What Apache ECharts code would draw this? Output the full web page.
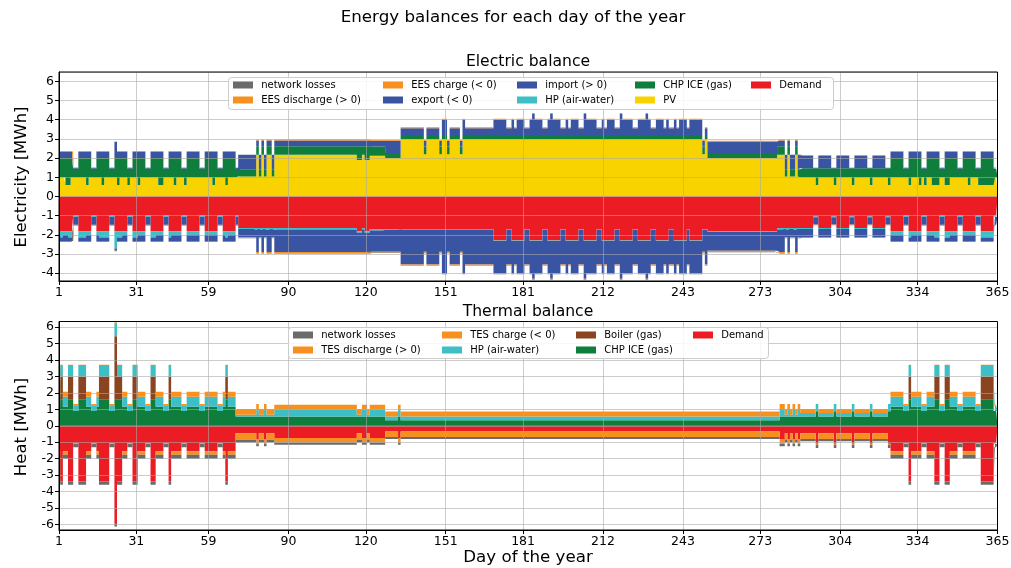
<!DOCTYPE html>
<html><head><meta charset="utf-8">
<script src="https://cdn.jsdelivr.net/npm/echarts@6/dist/echarts.min.js"></script>
<style>html,body{margin:0;padding:0;background:#fff}#c{width:1011px;height:568px}</style>
</head><body><div id="c"></div>
<script>
const days = Array.from({length: 365}, (_, i) => String(i + 1));
const tickDays = [1,31,59,90,120,151,181,212,243,273,304,334,365];

// ---------- Electric balance ----------
const pvE = [
1,1,1,.6,.6,1,1,
1,1,1,1,.6,1,1,
1,1,1,.6,1,1,1,
1,1,.6,1,1,1,.6,
1,1,1,.6,1,1,1,
1,1,1,1,.6,.6,1,
1,1,1,.6,1,1,1,
.6,1,1,1,1,1,1,
1,1,1,1,.6,1,1,
1,1,.6,1,1,1,1,
1.04,1.04,1.04,1.04,1.04,1.04,1.04,
2.17,1.04,2.17,1.04,2.17,2.17,1.04,
2.17,2.17,2.17,2.17,2.17,2.17,2.17,
2.17,2.17,2.17,2.17,2.17,2.17,2.17,
2.17,2.17,2.17,2.17,2.17,2.17,2.17,
2.17,2.17,2.17,2.17,2.17,2.17,2.17,
2.17,2.17,2.17,2.17,1.9,1.9,2.17,
1.9,1.9,2.12,2.12,2.12,2.12,2.12,
2.12,2,2,2,2,2,2,
3,3,3,3,3,3,3,
3,3,2.2,3,3,3,3,
3,2.2,3,3,2.2,3,3,
3,3,2.2,3,3,3,3,
3,3,3,3,3,3,3,
3,3,3,3,3,3,3,
3,3,3,3,3,3,3,
3,3,3,3,3,3,3,
3,3,3,3,3,3,3,
3,3,3,3,3,3,3,
3,3,3,3,3,3,3,
3,3,3,3,3,3,3,
3,3,3,3,3,3,3,
3,3,3,3,3,3,3,
3,3,3,3,3,3,3,
3,3,3,3,3,3,3,
3,3,3,3,3,2.2,3,
2,2,2,2,2,2,2,
2,2,2,2,2,2,2,
2,2,2,2,2,2,2,
2,2,2,2,2,2,2.17,
2.17,2.17,1.04,2.17,1.04,1.04,2.17,
1.04,1,1,1,1,1,1,
.6,1,1,1,1,1,1,
.6,1,1,1,1,1,1,
.6,1,1,1,1,1,1,
.6,1,1,1,1,1,1,
.6,1,1,1,1,1,1,
1,.6,1,1,1,.6,1,
.6,1,1,.6,.6,.6,1,
1,.6,.6,1,1,1,1,
1,1,1,.6,1,1,1,
.6,.6,.6,.6,.6,.6,1,
1];

const chpE = [
1,1,1,1.4,1.4,1,.45,
.45,1,1,1,1.4,1,.45,
.45,1,1,1.4,1,1,.45,
.45,1,1.4,1,1,1,.85,
.45,1,1,1.4,1,1,.45,
.45,1,1,1,1.4,1.4,.45,
.45,1,1,1.4,1,1,.45,
.85,1,1,1,1,1,.45,
.45,1,1,1,1.4,1,.45,
.45,1,1.4,1,1,1,.45,
.38,.38,.38,.38,.38,.38,.38,
.45,.38,.45,.38,.45,.45,.38,
.45,.45,.45,.45,.45,.45,.45,
.45,.45,.45,.45,.45,.45,.45,
.45,.45,.45,.45,.45,.45,.45,
.45,.45,.45,.45,.45,.45,.45,
.45,.45,.45,.45,.72,.72,.45,
.72,.72,.48,.48,.48,.48,.48,
.48,.26,.26,.26,.26,.26,.26,
.2,.2,.2,.2,.2,.2,.2,
.2,.2,.4,.2,.2,.2,.2,
.2,.4,.2,.2,.4,.2,.2,
.2,.2,.4,.2,.2,.2,.2,
.2,.2,.2,.2,.2,.2,.2,
.2,.2,.2,.2,.2,.2,.2,
.2,.2,.2,.2,.2,.2,.2,
.2,.2,.2,.2,.2,.2,.2,
.2,.2,.2,.2,.2,.2,.2,
.2,.2,.2,.2,.2,.2,.2,
.2,.2,.2,.2,.2,.2,.2,
.2,.2,.2,.2,.2,.2,.2,
.2,.2,.2,.2,.2,.2,.2,
.2,.2,.2,.2,.2,.2,.2,
.2,.2,.2,.2,.2,.2,.2,
.2,.2,.2,.2,.2,.2,.2,
.2,.2,.2,.2,.2,.4,.2,
.26,.26,.26,.26,.26,.26,.26,
.26,.26,.26,.26,.26,.26,.26,
.26,.26,.26,.26,.26,.26,.26,
.26,.26,.26,.26,.26,.26,.45,
.45,.45,.38,.45,.38,.38,.45,
.38,.47,.47,.47,.47,.47,.47,
.87,.47,.47,.47,.47,.47,.47,
.87,.47,.47,.47,.47,.47,.47,
.87,.47,.47,.47,.47,.47,.47,
.87,.47,.47,.47,.47,.47,.47,
.87,1,1,1,1,1,.45,
.45,1.4,1,1,1,1.4,.45,
.85,1,1,1.4,1.4,1.4,.45,
.45,1.4,1.4,1,1,1,.45,
.45,1,1,1.4,1,1,.45,
.85,1.4,1.4,1.4,1.4,1.4,.45,
.45];

const importE = [
.35,.35,.35,.35,.35,.35,.05,
.05,.35,.35,.35,.35,.35,.05,
.05,.35,.35,.35,.35,.35,.05,
.05,.85,.35,.35,.35,.35,.05,
.05,.35,.35,.35,.35,.35,.05,
.05,.35,.35,.35,.35,.35,.05,
.05,.35,.35,.35,.35,.35,.05,
.05,.35,.35,.35,.35,.35,.05,
.05,.35,.35,.35,.35,.35,.05,
.05,.35,.35,.35,.35,.35,.05,
.75,.75,.75,.75,.75,.75,.75,
.3,.75,.3,.75,.3,.3,.75,
.3,.3,.3,.3,.3,.3,.3,
.3,.3,.3,.3,.3,.3,.3,
.3,.3,.3,.3,.3,.3,.3,
.3,.3,.3,.3,.3,.3,.3,
.3,.3,.3,.3,.3,.3,.3,
.3,.3,.3,.3,.3,.3,.3,
.3,.64,.64,.64,.64,.64,.64,
.36,.36,.36,.36,.36,.36,.36,
.36,.36,.3,.36,.36,.36,.36,
.36,.3,.8,.8,.3,.36,.36,
.36,.36,.3,.8,.36,.36,.36,
.36,.36,.36,.36,.36,.36,.36,
.36,.8,.8,.8,.8,.8,.36,
.36,.8,.36,.8,.8,.8,.36,
.36,.8,1.1,.8,.8,.8,.36,
.36,.8,1.1,.8,.8,.8,.36,
.36,.8,.36,.8,.8,.8,.36,
.36,1.1,.8,.8,.8,.8,.36,
.36,.8,.36,.8,.8,.8,.36,
.36,1.1,.8,.8,.8,.8,.36,
.36,.8,.8,.8,1.1,.8,.36,
.36,.8,.8,.8,.36,.8,.36,
.36,.8,.36,.8,.8,.8,.36,
.8,.8,.8,.8,.8,.3,.36,
.6,.6,.6,.6,.6,.6,.6,
.6,.6,.6,.6,.6,.6,.6,
.6,.6,.6,.6,.6,.6,.6,
.6,.6,.6,.6,.6,.6,.3,
.3,.3,.75,.3,.75,.75,.3,
.75,.66,.66,.66,.66,.66,.02,
.02,.66,.66,.66,.66,.66,.02,
.02,.66,.66,.66,.66,.66,.02,
.02,.66,.66,.66,.66,.66,.02,
.02,.66,.66,.66,.66,.66,.02,
.02,.35,.35,.35,.35,.35,.05,
.05,.35,.35,.35,.35,.35,.05,
.05,.35,.35,.35,.35,.35,.05,
.05,.35,.35,.35,.35,.35,.05,
.05,.35,.35,.35,.35,.35,.05,
.05,.35,.35,.35,.35,.35,.05,
.05];

const eesDisE = [
.01,.01,.01,.01,.01,.01,.01,
.01,.01,.01,.01,.01,.01,.01,
.01,.01,.01,.01,.01,.01,.01,
.01,.01,.01,.01,.01,.01,.01,
.01,.01,.01,.01,.01,.01,.01,
.01,.01,.01,.01,.01,.01,.01,
.01,.01,.01,.01,.01,.01,.01,
.01,.01,.01,.01,.01,.01,.01,
.01,.01,.01,.01,.01,.01,.01,
.01,.01,.01,.01,.01,.01,.01,
.01,.01,.01,.01,.01,.01,.01,
.05,.01,.05,.01,.05,.05,.01,
.05,.05,.05,.05,.05,.05,.05,
.05,.05,.05,.05,.05,.05,.05,
.05,.05,.05,.05,.05,.05,.05,
.05,.05,.05,.05,.05,.05,.05,
.05,.05,.05,.05,.05,.05,.05,
.05,.05,.05,.05,.05,.05,.05,
.05,.05,.05,.05,.05,.05,.05,
.05,.05,.05,.05,.05,.05,.05,
.05,.05,.05,.05,.05,.05,.05,
.05,.05,.05,.05,.05,.05,.05,
.05,.05,.05,.05,.05,.05,.05,
.05,.05,.05,.05,.05,.05,.05,
.05,.05,.05,.05,.05,.05,.05,
.05,.05,.05,.05,.05,.05,.05,
.05,.05,.05,.05,.05,.05,.05,
.05,.05,.05,.05,.05,.05,.05,
.05,.05,.05,.05,.05,.05,.05,
.05,.05,.05,.05,.05,.05,.05,
.05,.05,.05,.05,.05,.05,.05,
.05,.05,.05,.05,.05,.05,.05,
.05,.05,.05,.05,.05,.05,.05,
.05,.05,.05,.05,.05,.05,.05,
.05,.05,.05,.05,.05,.05,.05,
.05,.05,.05,.05,.05,.05,.05,
.05,.05,.05,.05,.05,.05,.05,
.05,.05,.05,.05,.05,.05,.05,
.05,.05,.05,.05,.05,.05,.05,
.05,.05,.05,.05,.05,.05,.05,
.05,.05,.01,.05,.01,.01,.05,
.01,.02,.02,.02,.02,.02,.01,
.01,.02,.02,.02,.02,.02,.01,
.01,.02,.02,.02,.02,.02,.01,
.01,.02,.02,.02,.02,.02,.01,
.01,.02,.02,.02,.02,.02,.01,
.01,.01,.01,.01,.01,.01,.01,
.01,.01,.01,.01,.01,.01,.01,
.01,.01,.01,.01,.01,.01,.01,
.01,.01,.01,.01,.01,.01,.01,
.01,.01,.01,.01,.01,.01,.01,
.01,.01,.01,.01,.01,.01,.01,
.01];

const demandE = [
-1.82,-1.82,-1.82,-1.82,-1.82,-1.82,-1,
-1,-1.82,-1.82,-1.82,-1.82,-1.82,-1,
-1,-1.82,-1.82,-1.82,-1.82,-1.82,-1,
-1,-1.82,-1.82,-1.82,-1.82,-1.82,-1,
-1,-1.82,-1.82,-1.82,-1.82,-1.82,-1,
-1,-1.82,-1.82,-1.82,-1.82,-1.82,-1,
-1,-1.82,-1.82,-1.82,-1.82,-1.82,-1,
-1,-1.82,-1.82,-1.82,-1.82,-1.82,-1,
-1,-1.82,-1.82,-1.82,-1.82,-1.82,-1,
-1,-1.82,-1.82,-1.82,-1.82,-1.82,-1,
-1.65,-1.65,-1.65,-1.65,-1.65,-1.65,-1.65,
-1.65,-1.65,-1.65,-1.65,-1.65,-1.65,-1.65,
-1.65,-1.65,-1.65,-1.65,-1.65,-1.65,-1.65,
-1.65,-1.65,-1.65,-1.65,-1.65,-1.65,-1.65,
-1.65,-1.65,-1.65,-1.65,-1.65,-1.65,-1.65,
-1.65,-1.65,-1.65,-1.65,-1.65,-1.65,-1.65,
-1.65,-1.65,-1.65,-1.65,-1.82,-1.82,-1.65,
-1.82,-1.82,-1.7,-1.7,-1.7,-1.7,-1.7,
-1.7,-1.7,-1.7,-1.7,-1.7,-1.7,-1.7,
-1.7,-1.7,-1.7,-1.7,-1.7,-1.7,-1.7,
-1.7,-1.7,-1.7,-1.7,-1.7,-1.7,-1.7,
-1.7,-1.7,-1.7,-1.7,-1.7,-1.7,-1.7,
-1.7,-1.7,-1.7,-1.7,-1.7,-1.7,-1.7,
-1.7,-1.7,-1.7,-1.7,-1.7,-1.7,-1.7,
-1.7,-2.3,-2.3,-2.3,-2.3,-2.3,-1.7,
-1.7,-2.3,-2.3,-2.3,-2.3,-2.3,-1.7,
-1.7,-2.3,-2.3,-2.3,-2.3,-2.3,-1.7,
-1.7,-2.3,-2.3,-2.3,-2.3,-2.3,-1.7,
-1.7,-2.3,-2.3,-2.3,-2.3,-2.3,-1.7,
-1.7,-2.3,-2.3,-2.3,-2.3,-2.3,-1.7,
-1.7,-2.3,-2.3,-2.3,-2.3,-2.3,-1.7,
-1.7,-2.3,-2.3,-2.3,-2.3,-2.3,-1.7,
-1.7,-2.3,-2.3,-2.3,-2.3,-2.3,-1.7,
-1.7,-2.3,-2.3,-2.3,-2.3,-2.3,-1.7,
-1.7,-2.3,-2.3,-2.3,-2.3,-2.3,-1.7,
-2.3,-2.3,-2.3,-2.3,-2.3,-1.7,-1.7,
-1.82,-1.82,-1.82,-1.82,-1.82,-1.82,-1.82,
-1.82,-1.82,-1.82,-1.82,-1.82,-1.82,-1.82,
-1.82,-1.82,-1.82,-1.82,-1.82,-1.82,-1.82,
-1.82,-1.82,-1.82,-1.82,-1.82,-1.82,-1.65,
-1.65,-1.65,-1.65,-1.65,-1.65,-1.65,-1.65,
-1.65,-1.65,-1.65,-1.65,-1.65,-1.65,-1.04,
-1.04,-1.65,-1.65,-1.65,-1.65,-1.65,-1.04,
-1.04,-1.65,-1.65,-1.65,-1.65,-1.65,-1.04,
-1.04,-1.65,-1.65,-1.65,-1.65,-1.65,-1.04,
-1.04,-1.65,-1.65,-1.65,-1.65,-1.65,-1.04,
-1.04,-1.82,-1.82,-1.82,-1.82,-1.82,-1,
-1,-1.82,-1.82,-1.82,-1.82,-1.82,-1,
-1,-1.82,-1.82,-1.82,-1.82,-1.82,-1,
-1,-1.82,-1.82,-1.82,-1.82,-1.82,-1,
-1,-1.82,-1.82,-1.82,-1.82,-1.82,-1,
-1,-1.82,-1.82,-1.82,-1.82,-1.82,-1,
-1];

const hpE = [
-.18,-.32,-.18,-.18,-.32,-.32,-.06,
-.06,-.32,-.32,-.32,-.18,-.18,-.06,
-.06,-.18,-.32,-.32,-.32,-.32,-.06,
-.06,-.9,-.32,-.32,-.18,-.18,-.06,
-.06,-.32,-.32,-.18,-.18,-.18,-.06,
-.06,-.32,-.32,-.18,-.18,-.18,-.06,
-.06,-.32,-.18,-.18,-.18,-.18,-.06,
-.06,-.18,-.18,-.18,-.18,-.18,-.06,
-.06,-.18,-.18,-.18,-.18,-.18,-.06,
-.06,-.18,-.32,-.18,-.18,-.18,-.06,
-.05,-.05,-.05,-.05,-.05,-.05,-.05,
-.08,-.05,-.08,-.05,-.08,-.08,-.05,
-.08,-.08,-.08,-.08,-.08,-.08,-.08,
-.08,-.08,-.08,-.08,-.08,-.08,-.08,
-.08,-.08,-.08,-.08,-.08,-.08,-.08,
-.08,-.08,-.08,-.08,-.08,-.08,-.08,
-.08,-.08,-.08,-.08,-.08,-.08,-.08,
-.08,-.08,-.08,-.08,-.08,-.08,-.08,
-.08,-.05,-.05,-.05,-.05,-.05,-.05,
-.03,-.03,-.03,-.03,-.03,-.03,-.03,
-.03,-.03,-.03,-.03,-.03,-.03,-.03,
-.03,-.03,-.03,-.03,-.03,-.03,-.03,
-.03,-.03,-.03,-.03,-.03,-.03,-.03,
-.03,-.03,-.03,-.03,-.03,-.03,-.03,
-.03,-.03,-.03,-.03,-.03,-.03,-.03,
-.03,-.03,-.03,-.03,-.03,-.03,-.03,
-.03,-.03,-.03,-.03,-.03,-.03,-.03,
-.03,-.03,-.03,-.03,-.03,-.03,-.03,
-.03,-.03,-.03,-.03,-.03,-.03,-.03,
-.03,-.03,-.03,-.03,-.03,-.03,-.03,
-.03,-.03,-.03,-.03,-.03,-.03,-.03,
-.03,-.03,-.03,-.03,-.03,-.03,-.03,
-.03,-.03,-.03,-.03,-.03,-.03,-.03,
-.03,-.03,-.03,-.03,-.03,-.03,-.03,
-.03,-.03,-.03,-.03,-.03,-.03,-.03,
-.03,-.03,-.03,-.03,-.03,-.03,-.03,
-.02,-.02,-.02,-.02,-.02,-.02,-.02,
-.02,-.02,-.02,-.02,-.02,-.02,-.02,
-.02,-.02,-.02,-.02,-.02,-.02,-.02,
-.02,-.02,-.02,-.02,-.02,-.02,-.08,
-.08,-.08,-.05,-.08,-.05,-.05,-.08,
-.05,-.05,-.05,-.05,-.05,-.05,-.04,
-.04,-.05,-.05,-.05,-.05,-.05,-.04,
-.04,-.05,-.05,-.05,-.05,-.05,-.04,
-.04,-.05,-.05,-.05,-.05,-.05,-.04,
-.04,-.05,-.05,-.05,-.05,-.05,-.04,
-.04,-.18,-.18,-.18,-.18,-.18,-.06,
-.06,-.32,-.18,-.18,-.18,-.18,-.06,
-.06,-.18,-.18,-.18,-.32,-.32,-.06,
-.06,-.32,-.32,-.18,-.18,-.18,-.06,
-.06,-.18,-.18,-.18,-.18,-.18,-.06,
-.06,-.32,-.32,-.32,-.32,-.32,-.06,
-.06];

const exportE = [
-.32,-.18,-.32,-.32,-.18,-.18,-.41,
-.41,-.18,-.18,-.18,-.32,-.32,-.41,
-.41,-.32,-.18,-.18,-.18,-.18,-.41,
-.41,-.1,-.18,-.18,-.32,-.32,-.41,
-.41,-.18,-.18,-.32,-.32,-.32,-.41,
-.41,-.18,-.18,-.32,-.32,-.32,-.41,
-.41,-.18,-.32,-.32,-.32,-.32,-.41,
-.41,-.32,-.32,-.32,-.32,-.32,-.41,
-.41,-.32,-.32,-.32,-.32,-.32,-.41,
-.41,-.32,-.18,-.32,-.32,-.32,-.41,
-.43,-.43,-.43,-.43,-.43,-.43,-.43,
-1.17,-.43,-1.17,-.43,-1.17,-1.17,-.43,
-1.17,-1.17,-1.17,-1.17,-1.17,-1.17,-1.17,
-1.17,-1.17,-1.17,-1.17,-1.17,-1.17,-1.17,
-1.17,-1.17,-1.17,-1.17,-1.17,-1.17,-1.17,
-1.17,-1.17,-1.17,-1.17,-1.17,-1.17,-1.17,
-1.17,-1.17,-1.17,-1.17,-1,-1,-1.17,
-1,-1,-1.1,-1.1,-1.1,-1.1,-1.1,
-1.1,-1.13,-1.13,-1.13,-1.13,-1.13,-1.13,
-1.82,-1.82,-1.82,-1.82,-1.82,-1.82,-1.82,
-1.82,-1.82,-1.16,-1.82,-1.82,-1.82,-1.82,
-1.82,-1.16,-2.26,-2.26,-1.16,-1.82,-1.82,
-1.82,-1.82,-1.16,-2.26,-1.82,-1.82,-1.82,
-1.82,-1.82,-1.82,-1.82,-1.82,-1.82,-1.82,
-1.82,-1.66,-1.66,-1.66,-1.66,-1.66,-1.82,
-1.82,-1.66,-1.22,-1.66,-1.66,-1.66,-1.82,
-1.82,-1.66,-1.96,-1.66,-1.66,-1.66,-1.82,
-1.82,-1.66,-1.96,-1.66,-1.66,-1.66,-1.82,
-1.82,-1.66,-1.22,-1.66,-1.66,-1.66,-1.82,
-1.82,-1.96,-1.66,-1.66,-1.66,-1.66,-1.82,
-1.82,-1.66,-1.22,-1.66,-1.66,-1.66,-1.82,
-1.82,-1.96,-1.66,-1.66,-1.66,-1.66,-1.82,
-1.82,-1.66,-1.66,-1.66,-1.96,-1.66,-1.82,
-1.82,-1.66,-1.66,-1.66,-1.22,-1.66,-1.82,
-1.82,-1.66,-1.22,-1.66,-1.66,-1.66,-1.82,
-1.66,-1.66,-1.66,-1.66,-1.66,-1.16,-1.82,
-.99,-.99,-.99,-.99,-.99,-.99,-.99,
-.99,-.99,-.99,-.99,-.99,-.99,-.99,
-.99,-.99,-.99,-.99,-.99,-.99,-.99,
-.99,-.99,-.99,-.99,-.99,-.99,-1.17,
-1.17,-1.17,-.43,-1.17,-.43,-.43,-1.17,
-.43,-.42,-.42,-.42,-.42,-.42,-.38,
-.38,-.42,-.42,-.42,-.42,-.42,-.38,
-.38,-.42,-.42,-.42,-.42,-.42,-.38,
-.38,-.42,-.42,-.42,-.42,-.42,-.38,
-.38,-.42,-.42,-.42,-.42,-.42,-.38,
-.38,-.32,-.32,-.32,-.32,-.32,-.41,
-.41,-.18,-.32,-.32,-.32,-.32,-.41,
-.41,-.32,-.32,-.32,-.18,-.18,-.41,
-.41,-.18,-.18,-.32,-.32,-.32,-.41,
-.41,-.32,-.32,-.32,-.32,-.32,-.41,
-.41,-.18,-.18,-.18,-.18,-.18,-.41,
-.41];

const eesChE = [
-.01,-.01,-.01,-.01,-.01,-.01,-.01,
-.01,-.01,-.01,-.01,-.01,-.01,-.01,
-.01,-.01,-.01,-.01,-.01,-.01,-.01,
-.01,-.01,-.01,-.01,-.01,-.01,-.01,
-.01,-.01,-.01,-.01,-.01,-.01,-.01,
-.01,-.01,-.01,-.01,-.01,-.01,-.01,
-.01,-.01,-.01,-.01,-.01,-.01,-.01,
-.01,-.01,-.01,-.01,-.01,-.01,-.01,
-.01,-.01,-.01,-.01,-.01,-.01,-.01,
-.01,-.01,-.01,-.01,-.01,-.01,-.01,
-.02,-.02,-.02,-.02,-.02,-.02,-.02,
-.05,-.02,-.05,-.02,-.05,-.05,-.02,
-.05,-.05,-.05,-.05,-.05,-.05,-.05,
-.05,-.05,-.05,-.05,-.05,-.05,-.05,
-.05,-.05,-.05,-.05,-.05,-.05,-.05,
-.05,-.05,-.05,-.05,-.05,-.05,-.05,
-.05,-.05,-.05,-.05,-.05,-.05,-.05,
-.05,-.05,-.05,-.05,-.05,-.05,-.05,
-.05,-.05,-.05,-.05,-.05,-.05,-.05,
-.05,-.05,-.05,-.05,-.05,-.05,-.05,
-.05,-.05,-.05,-.05,-.05,-.05,-.05,
-.05,-.05,-.05,-.05,-.05,-.05,-.05,
-.05,-.05,-.05,-.05,-.05,-.05,-.05,
-.05,-.05,-.05,-.05,-.05,-.05,-.05,
-.05,-.05,-.05,-.05,-.05,-.05,-.05,
-.05,-.05,-.05,-.05,-.05,-.05,-.05,
-.05,-.05,-.05,-.05,-.05,-.05,-.05,
-.05,-.05,-.05,-.05,-.05,-.05,-.05,
-.05,-.05,-.05,-.05,-.05,-.05,-.05,
-.05,-.05,-.05,-.05,-.05,-.05,-.05,
-.05,-.05,-.05,-.05,-.05,-.05,-.05,
-.05,-.05,-.05,-.05,-.05,-.05,-.05,
-.05,-.05,-.05,-.05,-.05,-.05,-.05,
-.05,-.05,-.05,-.05,-.05,-.05,-.05,
-.05,-.05,-.05,-.05,-.05,-.05,-.05,
-.05,-.05,-.05,-.05,-.05,-.05,-.05,
-.05,-.05,-.05,-.05,-.05,-.05,-.05,
-.05,-.05,-.05,-.05,-.05,-.05,-.05,
-.05,-.05,-.05,-.05,-.05,-.05,-.05,
-.05,-.05,-.05,-.05,-.05,-.05,-.05,
-.05,-.05,-.02,-.05,-.02,-.02,-.05,
-.02,-.02,-.02,-.02,-.02,-.02,-.01,
-.01,-.02,-.02,-.02,-.02,-.02,-.01,
-.01,-.02,-.02,-.02,-.02,-.02,-.01,
-.01,-.02,-.02,-.02,-.02,-.02,-.01,
-.01,-.02,-.02,-.02,-.02,-.02,-.01,
-.01,-.01,-.01,-.01,-.01,-.01,-.01,
-.01,-.01,-.01,-.01,-.01,-.01,-.01,
-.01,-.01,-.01,-.01,-.01,-.01,-.01,
-.01,-.01,-.01,-.01,-.01,-.01,-.01,
-.01,-.01,-.01,-.01,-.01,-.01,-.01,
-.01,-.01,-.01,-.01,-.01,-.01,-.01,
-.01];

const lossE = [
-.03,-.03,-.03,-.03,-.03,-.03,-.03,
-.03,-.03,-.03,-.03,-.03,-.03,-.03,
-.03,-.03,-.03,-.03,-.03,-.03,-.03,
-.03,-.03,-.03,-.03,-.03,-.03,-.03,
-.03,-.03,-.03,-.03,-.03,-.03,-.03,
-.03,-.03,-.03,-.03,-.03,-.03,-.03,
-.03,-.03,-.03,-.03,-.03,-.03,-.03,
-.03,-.03,-.03,-.03,-.03,-.03,-.03,
-.03,-.03,-.03,-.03,-.03,-.03,-.03,
-.03,-.03,-.03,-.03,-.03,-.03,-.03,
-.03,-.03,-.03,-.03,-.03,-.03,-.03,
-.02,-.03,-.02,-.03,-.02,-.02,-.03,
-.02,-.02,-.02,-.02,-.02,-.02,-.02,
-.02,-.02,-.02,-.02,-.02,-.02,-.02,
-.02,-.02,-.02,-.02,-.02,-.02,-.02,
-.02,-.02,-.02,-.02,-.02,-.02,-.02,
-.02,-.02,-.02,-.02,-.02,-.02,-.02,
-.02,-.02,-.02,-.02,-.02,-.02,-.02,
-.02,-.02,-.02,-.02,-.02,-.02,-.02,
-.02,-.02,-.02,-.02,-.02,-.02,-.02,
-.02,-.02,-.02,-.02,-.02,-.02,-.02,
-.02,-.02,-.02,-.02,-.02,-.02,-.02,
-.02,-.02,-.02,-.02,-.02,-.02,-.02,
-.02,-.02,-.02,-.02,-.02,-.02,-.02,
-.02,-.02,-.02,-.02,-.02,-.02,-.02,
-.02,-.02,-.02,-.02,-.02,-.02,-.02,
-.02,-.02,-.02,-.02,-.02,-.02,-.02,
-.02,-.02,-.02,-.02,-.02,-.02,-.02,
-.02,-.02,-.02,-.02,-.02,-.02,-.02,
-.02,-.02,-.02,-.02,-.02,-.02,-.02,
-.02,-.02,-.02,-.02,-.02,-.02,-.02,
-.02,-.02,-.02,-.02,-.02,-.02,-.02,
-.02,-.02,-.02,-.02,-.02,-.02,-.02,
-.02,-.02,-.02,-.02,-.02,-.02,-.02,
-.02,-.02,-.02,-.02,-.02,-.02,-.02,
-.02,-.02,-.02,-.02,-.02,-.02,-.02,
-.03,-.03,-.03,-.03,-.03,-.03,-.03,
-.03,-.03,-.03,-.03,-.03,-.03,-.03,
-.03,-.03,-.03,-.03,-.03,-.03,-.03,
-.03,-.03,-.03,-.03,-.03,-.03,-.02,
-.02,-.02,-.03,-.02,-.03,-.03,-.02,
-.03,-.03,-.03,-.03,-.03,-.03,-.03,
-.03,-.03,-.03,-.03,-.03,-.03,-.03,
-.03,-.03,-.03,-.03,-.03,-.03,-.03,
-.03,-.03,-.03,-.03,-.03,-.03,-.03,
-.03,-.03,-.03,-.03,-.03,-.03,-.03,
-.03,-.03,-.03,-.03,-.03,-.03,-.03,
-.03,-.03,-.03,-.03,-.03,-.03,-.03,
-.03,-.03,-.03,-.03,-.03,-.03,-.03,
-.03,-.03,-.03,-.03,-.03,-.03,-.03,
-.03,-.03,-.03,-.03,-.03,-.03,-.03,
-.03,-.03,-.03,-.03,-.03,-.03,-.03,
-.03];

// ---------- Thermal balance ----------
const chpT = [
1.15,1.58,1.15,1.15,1.58,1.58,.9,
.9,1.58,1.58,1.58,1.15,1.15,.9,
.9,1.15,1.58,1.58,1.58,1.58,.9,
.9,1.58,1.58,1.58,1.15,1.15,.9,
.9,1.58,1.58,1.15,1.15,1.15,.9,
.9,1.58,1.58,1.15,1.15,1.15,.9,
.9,1.58,1.15,1.15,1.15,1.15,.9,
.9,1.15,1.15,1.15,1.15,1.15,.9,
.9,1.15,1.15,1.15,1.15,1.15,.9,
.9,1.15,1.58,1.15,1.15,1.15,.57,
.57,.57,.57,.57,.57,.57,.57,
.57,.57,.57,.57,.57,.57,.57,
.57,.57,.57,.57,.57,.57,.57,
.57,.57,.57,.57,.57,.57,.57,
.57,.57,.57,.57,.57,.57,.57,
.57,.57,.57,.57,.57,.57,.57,
.57,.57,.57,.57,.57,.57,.57,
.57,.57,.57,.57,.57,.57,.57,
.57,.33,.33,.33,.33,.33,.57,
.33,.33,.33,.33,.33,.33,.33,
.33,.33,.33,.33,.33,.33,.33,
.33,.33,.33,.33,.33,.33,.33,
.33,.33,.33,.33,.33,.33,.33,
.33,.33,.33,.33,.33,.33,.33,
.33,.33,.33,.33,.33,.33,.33,
.33,.33,.33,.33,.33,.33,.33,
.33,.33,.33,.33,.33,.33,.33,
.33,.33,.33,.33,.33,.33,.33,
.33,.33,.33,.33,.33,.33,.33,
.33,.33,.33,.33,.33,.33,.33,
.33,.33,.33,.33,.33,.33,.33,
.33,.33,.33,.33,.33,.33,.33,
.33,.33,.33,.33,.33,.33,.33,
.33,.33,.33,.33,.33,.33,.33,
.33,.33,.33,.33,.33,.33,.33,
.33,.33,.33,.33,.33,.33,.33,
.33,.33,.33,.33,.33,.33,.33,
.33,.33,.33,.33,.33,.33,.33,
.33,.33,.33,.33,.33,.33,.33,
.33,.33,.33,.33,.33,.33,.33,
.57,.57,.57,.57,.57,.57,.57,
.57,.57,.57,.57,.57,.57,.57,
.88,.57,.57,.57,.57,.57,.57,
.88,.57,.57,.57,.57,.57,.57,
.88,.57,.57,.57,.57,.57,.57,
.88,.57,.57,.57,.57,.57,.57,
.88,1.15,1.15,1.15,1.15,1.15,.9,
.9,1.58,1.15,1.15,1.15,1.15,.9,
.9,1.15,1.15,1.15,1.58,1.58,.9,
.9,1.58,1.58,1.15,1.15,1.15,.9,
.9,1.15,1.15,1.15,1.15,1.15,.9,
.9,1.58,1.58,1.58,1.58,1.58,.9,
.9];

const boilerT = [
0,1.42,0,0,1.42,1.42,0,
0,1.42,1.42,1.42,0,0,0,
0,0,1.42,1.42,1.42,1.42,0,
0,3.87,1.42,1.42,0,0,0,
0,1.42,1.42,0,0,0,0,
0,1.42,1.42,0,0,0,0,
0,1.42,0,0,0,0,0,
0,0,0,0,0,0,0,
0,0,0,0,0,0,0,
0,0,1.42,0,0,0,0,
0,0,0,0,0,0,0,
0,0,0,0,0,0,0,
0,0,0,0,0,0,0,
0,0,0,0,0,0,0,
0,0,0,0,0,0,0,
0,0,0,0,0,0,0,
0,0,0,0,0,0,0,
0,0,0,0,0,0,0,
0,0,0,0,0,0,0,
0,0,0,0,0,0,0,
0,0,0,0,0,0,0,
0,0,0,0,0,0,0,
0,0,0,0,0,0,0,
0,0,0,0,0,0,0,
0,0,0,0,0,0,0,
0,0,0,0,0,0,0,
0,0,0,0,0,0,0,
0,0,0,0,0,0,0,
0,0,0,0,0,0,0,
0,0,0,0,0,0,0,
0,0,0,0,0,0,0,
0,0,0,0,0,0,0,
0,0,0,0,0,0,0,
0,0,0,0,0,0,0,
0,0,0,0,0,0,0,
0,0,0,0,0,0,0,
0,0,0,0,0,0,0,
0,0,0,0,0,0,0,
0,0,0,0,0,0,0,
0,0,0,0,0,0,0,
0,0,0,0,0,0,0,
0,0,0,0,0,0,0,
0,0,0,0,0,0,0,
0,0,0,0,0,0,0,
0,0,0,0,0,0,0,
0,0,0,0,0,0,0,
0,0,0,0,0,0,0,
0,1.42,0,0,0,0,0,
0,0,0,0,1.42,1.42,0,
0,1.42,1.42,0,0,0,0,
0,0,0,0,0,0,0,
0,1.42,1.42,1.42,1.42,1.42,0,
0];

const hpT = [
.62,.7,.62,.62,.7,.7,.35,
.35,.7,.7,.7,.62,.62,.35,
.35,.62,.7,.7,.7,.7,.35,
.35,.8,.7,.7,.62,.62,.35,
.35,.7,.7,.62,.62,.62,.35,
.35,.7,.7,.62,.62,.62,.35,
.35,.7,.62,.62,.62,.62,.35,
.35,.62,.62,.62,.62,.62,.35,
.35,.62,.62,.62,.62,.62,.35,
.35,.62,.7,.62,.62,.62,.1,
.1,.1,.1,.1,.1,.1,.1,
.45,.1,.1,.45,.1,.1,.1,
.43,.43,.43,.43,.43,.43,.43,
.43,.43,.43,.43,.43,.43,.43,
.43,.43,.43,.43,.43,.43,.43,
.43,.43,.43,.43,.43,.43,.43,
.43,.43,.43,.43,.1,.1,.43,
.43,.1,.43,.43,.43,.43,.43,
.43,.24,.24,.24,.24,.24,.43,
.24,.24,.24,.24,.24,.24,.24,
.24,.24,.24,.24,.24,.24,.24,
.24,.24,.24,.24,.24,.24,.24,
.24,.24,.24,.24,.24,.24,.24,
.24,.24,.24,.24,.24,.24,.24,
.24,.24,.24,.24,.24,.24,.24,
.24,.24,.24,.24,.24,.24,.24,
.24,.24,.24,.24,.24,.24,.24,
.24,.24,.24,.24,.24,.24,.24,
.24,.24,.24,.24,.24,.24,.24,
.24,.24,.24,.24,.24,.24,.24,
.24,.24,.24,.24,.24,.24,.24,
.24,.24,.24,.24,.24,.24,.24,
.24,.24,.24,.24,.24,.24,.24,
.24,.24,.24,.24,.24,.24,.24,
.24,.24,.24,.24,.24,.24,.24,
.24,.24,.24,.24,.24,.24,.24,
.24,.24,.24,.24,.24,.24,.24,
.24,.24,.24,.24,.24,.24,.24,
.24,.24,.24,.24,.24,.24,.24,
.24,.24,.24,.24,.24,.24,.24,
.45,.45,.1,.45,.1,.45,.1,
.45,.2,.2,.2,.2,.2,.2,
.44,.2,.2,.2,.2,.2,.2,
.44,.2,.2,.2,.2,.2,.2,
.44,.2,.2,.2,.2,.2,.2,
.44,.2,.2,.2,.2,.2,.2,
.44,.62,.62,.62,.62,.62,.35,
.35,.7,.62,.62,.62,.62,.35,
.35,.62,.62,.62,.7,.7,.35,
.35,.7,.7,.62,.62,.62,.35,
.35,.62,.62,.62,.62,.62,.35,
.35,.7,.7,.7,.7,.7,.35,
.35];

const tesDisT = [
.3,.02,.3,.3,.02,.02,.08,
.08,.02,.02,.02,.3,.3,.08,
.08,.3,.02,.02,.02,.02,.08,
.08,.05,.02,.02,.3,.3,.08,
.08,.02,.02,.3,.3,.3,.08,
.08,.02,.02,.3,.3,.3,.08,
.08,.02,.3,.3,.3,.3,.08,
.08,.3,.3,.3,.3,.3,.08,
.08,.3,.3,.3,.3,.3,.08,
.08,.3,.02,.3,.3,.3,.35,
.35,.35,.35,.35,.35,.35,.35,
.3,.35,.35,.3,.35,.35,.35,
.28,.28,.28,.28,.28,.28,.28,
.28,.28,.28,.28,.28,.28,.28,
.28,.28,.28,.28,.28,.28,.28,
.28,.28,.28,.28,.28,.28,.28,
.28,.28,.28,.28,.35,.35,.28,
.28,.35,.28,.28,.28,.28,.28,
.28,.3,.3,.3,.3,.3,.28,
.3,.3,.3,.3,.3,.3,.3,
.3,.3,.3,.3,.3,.3,.3,
.3,.3,.3,.3,.3,.3,.3,
.3,.3,.3,.3,.3,.3,.3,
.3,.3,.3,.3,.3,.3,.3,
.3,.3,.3,.3,.3,.3,.3,
.3,.3,.3,.3,.3,.3,.3,
.3,.3,.3,.3,.3,.3,.3,
.3,.3,.3,.3,.3,.3,.3,
.3,.3,.3,.3,.3,.3,.3,
.3,.3,.3,.3,.3,.3,.3,
.3,.3,.3,.3,.3,.3,.3,
.3,.3,.3,.3,.3,.3,.3,
.3,.3,.3,.3,.3,.3,.3,
.3,.3,.3,.3,.3,.3,.3,
.3,.3,.3,.3,.3,.3,.3,
.3,.3,.3,.3,.3,.3,.3,
.3,.3,.3,.3,.3,.3,.3,
.3,.3,.3,.3,.3,.3,.3,
.3,.3,.3,.3,.3,.3,.3,
.3,.3,.3,.3,.3,.3,.3,
.3,.3,.35,.3,.35,.3,.35,
.3,.25,.25,.25,.25,.25,.25,
0,.25,.25,.25,.25,.25,.25,
0,.25,.25,.25,.25,.25,.25,
0,.25,.25,.25,.25,.25,.25,
0,.25,.25,.25,.25,.25,.25,
0,.3,.3,.3,.3,.3,.08,
.08,.02,.3,.3,.3,.3,.08,
.08,.3,.3,.3,.02,.02,.08,
.08,.02,.02,.3,.3,.3,.08,
.08,.3,.3,.3,.3,.3,.08,
.08,.02,.02,.02,.02,.02,.08,
.08];

const demandT = [
-1.56,-3.4,-1.56,-1.56,-3.4,-3.4,-1.06,
-1.06,-3.4,-3.4,-3.4,-1.56,-1.56,-1.06,
-1.06,-1.56,-3.4,-3.4,-3.4,-3.4,-1.06,
-1.06,-5.93,-3.4,-3.4,-1.56,-1.56,-1.06,
-1.06,-3.4,-3.4,-1.56,-1.56,-1.56,-1.06,
-1.06,-3.4,-3.4,-1.56,-1.56,-1.56,-1.06,
-1.06,-3.4,-1.56,-1.56,-1.56,-1.56,-1.06,
-1.06,-1.56,-1.56,-1.56,-1.56,-1.56,-1.06,
-1.06,-1.56,-1.56,-1.56,-1.56,-1.56,-1.06,
-1.06,-1.56,-3.4,-1.56,-1.56,-1.56,-.45,
-.45,-.45,-.45,-.45,-.45,-.45,-.45,
-.8,-.45,-.45,-.8,-.45,-.45,-.45,
-.75,-.75,-.75,-.75,-.75,-.75,-.75,
-.75,-.75,-.75,-.75,-.75,-.75,-.75,
-.75,-.75,-.75,-.75,-.75,-.75,-.75,
-.75,-.75,-.75,-.75,-.75,-.75,-.75,
-.75,-.75,-.75,-.75,-.45,-.45,-.75,
-.75,-.45,-.75,-.75,-.75,-.75,-.75,
-.75,-.35,-.35,-.35,-.35,-.35,-.75,
-.35,-.35,-.35,-.35,-.35,-.35,-.35,
-.35,-.35,-.35,-.35,-.35,-.35,-.35,
-.35,-.35,-.35,-.35,-.35,-.35,-.35,
-.35,-.35,-.35,-.35,-.35,-.35,-.35,
-.35,-.35,-.35,-.35,-.35,-.35,-.35,
-.35,-.35,-.35,-.35,-.35,-.35,-.35,
-.35,-.35,-.35,-.35,-.35,-.35,-.35,
-.35,-.35,-.35,-.35,-.35,-.35,-.35,
-.35,-.35,-.35,-.35,-.35,-.35,-.35,
-.35,-.35,-.35,-.35,-.35,-.35,-.35,
-.35,-.35,-.35,-.35,-.35,-.35,-.35,
-.35,-.35,-.35,-.35,-.35,-.35,-.35,
-.35,-.35,-.35,-.35,-.35,-.35,-.35,
-.35,-.35,-.35,-.35,-.35,-.35,-.35,
-.35,-.35,-.35,-.35,-.35,-.35,-.35,
-.35,-.35,-.35,-.35,-.35,-.35,-.35,
-.35,-.35,-.35,-.35,-.35,-.35,-.35,
-.35,-.35,-.35,-.35,-.35,-.35,-.35,
-.35,-.35,-.35,-.35,-.35,-.35,-.35,
-.35,-.35,-.35,-.35,-.35,-.35,-.35,
-.35,-.35,-.35,-.35,-.35,-.35,-.35,
-.8,-.8,-.45,-.8,-.45,-.8,-.45,
-.8,-.45,-.45,-.45,-.45,-.45,-.45,
-1.1,-.45,-.45,-.45,-.45,-.45,-.45,
-1.1,-.45,-.45,-.45,-.45,-.45,-.45,
-1.1,-.45,-.45,-.45,-.45,-.45,-.45,
-1.1,-.45,-.45,-.45,-.45,-.45,-.45,
-1.1,-1.56,-1.56,-1.56,-1.56,-1.56,-1.06,
-1.06,-3.4,-1.56,-1.56,-1.56,-1.56,-1.06,
-1.06,-1.56,-1.56,-1.56,-3.4,-3.4,-1.06,
-1.06,-3.4,-3.4,-1.56,-1.56,-1.56,-1.06,
-1.06,-1.56,-1.56,-1.56,-1.56,-1.56,-1.06,
-1.06,-3.4,-3.4,-3.4,-3.4,-3.4,-1.06,
-1.06];

const tesChT = [
-.21,0,-.21,-.21,0,0,-.05,
-.05,0,0,0,-.21,-.21,-.05,
-.05,-.21,0,0,0,0,-.05,
-.05,0,0,0,-.21,-.21,-.05,
-.05,0,0,-.21,-.21,-.21,-.05,
-.05,0,0,-.21,-.21,-.21,-.05,
-.05,0,-.21,-.21,-.21,-.21,-.05,
-.05,-.21,-.21,-.21,-.21,-.21,-.05,
-.05,-.21,-.21,-.21,-.21,-.21,-.05,
-.05,-.21,0,-.21,-.21,-.21,-.4,
-.4,-.4,-.4,-.4,-.4,-.4,-.4,
-.3,-.4,-.4,-.3,-.4,-.4,-.4,
-.27,-.27,-.27,-.27,-.27,-.27,-.27,
-.27,-.27,-.27,-.27,-.27,-.27,-.27,
-.27,-.27,-.27,-.27,-.27,-.27,-.27,
-.27,-.27,-.27,-.27,-.27,-.27,-.27,
-.27,-.27,-.27,-.27,-.4,-.4,-.27,
-.27,-.4,-.27,-.27,-.27,-.27,-.27,
-.27,-.34,-.34,-.34,-.34,-.34,-.27,
-.34,-.34,-.34,-.34,-.34,-.34,-.34,
-.34,-.34,-.34,-.34,-.34,-.34,-.34,
-.34,-.34,-.34,-.34,-.34,-.34,-.34,
-.34,-.34,-.34,-.34,-.34,-.34,-.34,
-.34,-.34,-.34,-.34,-.34,-.34,-.34,
-.34,-.34,-.34,-.34,-.34,-.34,-.34,
-.34,-.34,-.34,-.34,-.34,-.34,-.34,
-.34,-.34,-.34,-.34,-.34,-.34,-.34,
-.34,-.34,-.34,-.34,-.34,-.34,-.34,
-.34,-.34,-.34,-.34,-.34,-.34,-.34,
-.34,-.34,-.34,-.34,-.34,-.34,-.34,
-.34,-.34,-.34,-.34,-.34,-.34,-.34,
-.34,-.34,-.34,-.34,-.34,-.34,-.34,
-.34,-.34,-.34,-.34,-.34,-.34,-.34,
-.34,-.34,-.34,-.34,-.34,-.34,-.34,
-.34,-.34,-.34,-.34,-.34,-.34,-.34,
-.34,-.34,-.34,-.34,-.34,-.34,-.34,
-.34,-.34,-.34,-.34,-.34,-.34,-.34,
-.34,-.34,-.34,-.34,-.34,-.34,-.34,
-.34,-.34,-.34,-.34,-.34,-.34,-.34,
-.34,-.34,-.34,-.34,-.34,-.34,-.34,
-.3,-.3,-.4,-.3,-.4,-.3,-.4,
-.3,-.35,-.35,-.35,-.35,-.35,-.35,
-.05,-.35,-.35,-.35,-.35,-.35,-.35,
-.05,-.35,-.35,-.35,-.35,-.35,-.35,
-.05,-.35,-.35,-.35,-.35,-.35,-.35,
-.05,-.35,-.35,-.35,-.35,-.35,-.35,
-.05,-.21,-.21,-.21,-.21,-.21,-.05,
-.05,0,-.21,-.21,-.21,-.21,-.05,
-.05,-.21,-.21,-.21,0,0,-.05,
-.05,0,0,-.21,-.21,-.21,-.05,
-.05,-.21,-.21,-.21,-.21,-.21,-.05,
-.05,0,0,0,0,0,-.05,
-.05];

const lossT = [
-.24,-.2,-.24,-.24,-.2,-.2,-.2,
-.2,-.2,-.2,-.2,-.24,-.24,-.2,
-.2,-.24,-.2,-.2,-.2,-.2,-.2,
-.2,-.21,-.2,-.2,-.24,-.24,-.2,
-.2,-.2,-.2,-.24,-.24,-.24,-.2,
-.2,-.2,-.2,-.24,-.24,-.24,-.2,
-.2,-.2,-.24,-.24,-.24,-.24,-.2,
-.2,-.24,-.24,-.24,-.24,-.24,-.2,
-.2,-.24,-.24,-.24,-.24,-.24,-.2,
-.2,-.24,-.2,-.24,-.24,-.24,-.17,
-.17,-.17,-.17,-.17,-.17,-.17,-.17,
-.15,-.17,-.17,-.15,-.17,-.17,-.17,
-.14,-.14,-.14,-.14,-.14,-.14,-.14,
-.14,-.14,-.14,-.14,-.14,-.14,-.14,
-.14,-.14,-.14,-.14,-.14,-.14,-.14,
-.14,-.14,-.14,-.14,-.14,-.14,-.14,
-.14,-.14,-.14,-.14,-.17,-.17,-.14,
-.14,-.17,-.14,-.14,-.14,-.14,-.14,
-.14,-.12,-.12,-.12,-.12,-.12,-.14,
-.12,-.12,-.12,-.12,-.12,-.12,-.12,
-.12,-.12,-.12,-.12,-.12,-.12,-.12,
-.12,-.12,-.12,-.12,-.12,-.12,-.12,
-.12,-.12,-.12,-.12,-.12,-.12,-.12,
-.12,-.12,-.12,-.12,-.12,-.12,-.12,
-.12,-.12,-.12,-.12,-.12,-.12,-.12,
-.12,-.12,-.12,-.12,-.12,-.12,-.12,
-.12,-.12,-.12,-.12,-.12,-.12,-.12,
-.12,-.12,-.12,-.12,-.12,-.12,-.12,
-.12,-.12,-.12,-.12,-.12,-.12,-.12,
-.12,-.12,-.12,-.12,-.12,-.12,-.12,
-.12,-.12,-.12,-.12,-.12,-.12,-.12,
-.12,-.12,-.12,-.12,-.12,-.12,-.12,
-.12,-.12,-.12,-.12,-.12,-.12,-.12,
-.12,-.12,-.12,-.12,-.12,-.12,-.12,
-.12,-.12,-.12,-.12,-.12,-.12,-.12,
-.12,-.12,-.12,-.12,-.12,-.12,-.12,
-.12,-.12,-.12,-.12,-.12,-.12,-.12,
-.12,-.12,-.12,-.12,-.12,-.12,-.12,
-.12,-.12,-.12,-.12,-.12,-.12,-.12,
-.12,-.12,-.12,-.12,-.12,-.12,-.12,
-.15,-.15,-.17,-.15,-.17,-.15,-.17,
-.15,-.15,-.15,-.15,-.15,-.15,-.15,
-.2,-.15,-.15,-.15,-.15,-.15,-.15,
-.2,-.15,-.15,-.15,-.15,-.15,-.15,
-.2,-.15,-.15,-.15,-.15,-.15,-.15,
-.2,-.15,-.15,-.15,-.15,-.15,-.15,
-.2,-.24,-.24,-.24,-.24,-.24,-.2,
-.2,-.2,-.24,-.24,-.24,-.24,-.2,
-.2,-.24,-.24,-.24,-.2,-.2,-.2,
-.2,-.2,-.2,-.24,-.24,-.24,-.2,
-.2,-.24,-.24,-.24,-.24,-.24,-.2,
-.2,-.2,-.2,-.2,-.2,-.2,-.2,
-.2];

// ---------- chart ----------
const FONT = 'DejaVu Sans';
const COL = {loss:'#6b6b6b', store:'#f7901e', grid:'#3a54a4', hp:'#3dbfc7', chp:'#0f7e3d', pv:'#f8d300', dem:'#ec1c24', boil:'#8a4420'};

// each daily value is drawn as a step-shaped stacked area (one column per day)
function layer(name, data, color, gi, stack) {
  return {type:'line', name, data, xAxisIndex:gi, yAxisIndex:gi, stack, step:'middle',
    symbol:'none', showSymbol:false, clip:true, silent:true, animation:false, z:2,
    lineStyle:{width:0, color}, areaStyle:{color, opacity:1}, itemStyle:{color},
    emphasis:{disabled:true}};
}
const series = [
  layer('PV', pvE, COL.pv, 0, 'e'),
  layer('CHP ICE (gas)', chpE, COL.chp, 0, 'e'),
  layer('import (> 0)', importE, COL.grid, 0, 'e'),
  layer('EES discharge (> 0)', eesDisE, COL.store, 0, 'e'),
  layer('Demand', demandE, COL.dem, 0, 'e'),
  layer('HP (air-water)', hpE, COL.hp, 0, 'e'),
  layer('export (< 0)', exportE, COL.grid, 0, 'e'),
  layer('EES charge (< 0)', eesChE, COL.store, 0, 'e'),
  layer('network losses', lossE, COL.loss, 0, 'e'),
  layer('CHP ICE (gas)', chpT, COL.chp, 1, 't'),
  layer('Boiler (gas)', boilerT, COL.boil, 1, 't'),
  layer('HP (air-water)', hpT, COL.hp, 1, 't'),
  layer('TES discharge (> 0)', tesDisT, COL.store, 1, 't'),
  layer('Demand', demandT, COL.dem, 1, 't'),
  layer('TES charge (< 0)', tesChT, COL.store, 1, 't'),
  layer('network losses', lossT, COL.loss, 1, 't')
];

const GRIDC = 'rgba(170,170,170,0.75)';
const isTick = (i) => tickDays.indexOf(i + 1) >= 0;
function xAx(g) {
  return {type:'category', gridIndex:g, data:days, boundaryGap:false, z:3,
    axisLine:{show:true, onZero:false, lineStyle:{color:'#000', width:1}},
    axisTick:{show:true, interval:isTick, length:4, lineStyle:{color:'#000'}},
    axisLabel:{interval:isTick, fontSize:12.5, color:'#000', fontFamily:FONT, margin:5},
    splitLine:{show:true, interval:isTick, lineStyle:{color:GRIDC, width:0.8}}};
}
function yAx(g, min, max, n) {
  return {type:'value', gridIndex:g, min, max, splitNumber:n, z:3,
    axisLine:{show:true, lineStyle:{color:'#000', width:1}},
    axisTick:{show:true, length:4, lineStyle:{color:'#000'}},
    axisLabel:{showMinLabel:false, showMaxLabel:false, fontSize:12.5, color:'#000', fontFamily:FONT, margin:5},
    splitLine:{show:true, lineStyle:{color:GRIDC, width:0.8}}};
}

const legendText = {fontSize:10, fontFamily:FONT, color:'#000', lineHeight:12};
function legendCols(cols, lefts, top) {
  return cols.map((c, i) => ({data:c, orient:'vertical', left:lefts[i], top, padding:0, z:6,
    itemWidth:20, itemHeight:7, itemGap:3, icon:'rect', selectedMode:false,
    itemStyle:{borderWidth:0}, lineStyle:{width:0},
    textStyle:legendText, formatter:(n) => ' ' + n}));
}
const legends = [].concat(
  legendCols([['network losses','EES discharge (> 0)'],['EES charge (< 0)','export (< 0)'],['import (> 0)','HP (air-water)'],['CHP ICE (gas)','PV'],['Demand']],
             [233, 383, 517, 635, 751], 79),
  legendCols([['network losses','TES discharge (> 0)'],['TES charge (< 0)','HP (air-water)'],['Boiler (gas)','CHP ICE (gas)'],['Demand']],
             [293, 442, 576, 693], 329)
);

function txt(text, x, y, size, rot) {
  return {type:'text', x, y, rotation:rot || 0, z:10, silent:true,
    style:{text, font:size + 'px ' + FONT, fill:'#000', align:'center', verticalAlign:'middle', textAlign:'center', textVerticalAlign:'middle'}};
}
const graphics = [
  {type:'rect', z:5, silent:true, shape:{x:228.5, y:77.5, width:605, height:32, r:3}, style:{fill:'rgba(255,255,255,0.85)', stroke:'#cccccc', lineWidth:1}},
  {type:'rect', z:5, silent:true, shape:{x:288.5, y:327.5, width:480, height:31, r:3}, style:{fill:'rgba(255,255,255,0.85)', stroke:'#cccccc', lineWidth:1}},
  txt('Energy balances for each day of the year', 513, 18, 16.7),
  txt('Electric balance', 528, 62, 15.6),
  txt('Thermal balance', 528, 312, 15.6),
  txt('Electricity [MWh]', 22, 177, 16.5, Math.PI / 2),
  txt('Heat [MWh]', 22, 427, 16.5, Math.PI / 2),
  txt('Day of the year', 528, 558, 16.7)
];
const all = {pvE, chpE, importE, eesDisE, demandE, hpE, exportE, eesChE, lossE, chpT, boilerT, hpT, tesDisT, demandT, tesChT, lossT};
const bad = Object.keys(all).filter(k => all[k].length !== 365).map(k => k + ':' + all[k].length);
if (bad.length) graphics.push({type:'text', x:5, y:5, z:20, style:{text:bad.join(' '), font:'10px sans-serif', fill:'#f00'}});

const chart = echarts.init(document.getElementById('c'), null, {renderer:'canvas'});
chart.setOption({
  animation:false,
  backgroundColor:'#fff',
  grid:[
    {left:59, right:13.5, top:72, height:209, show:true, borderColor:'#000', borderWidth:1, outerBoundsMode:'none', z:4},
    {left:59, right:13.5, top:321.5, height:208.5, show:true, borderColor:'#000', borderWidth:1, outerBoundsMode:'none', z:4}
  ],
  xAxis:[xAx(0), xAx(1)],
  yAxis:[yAx(0, -4.41, 6.49, 10), yAx(1, -6.35, 6.35, 12)],
  legend:legends,
  graphic:graphics,
  series
});
</script></body></html>
